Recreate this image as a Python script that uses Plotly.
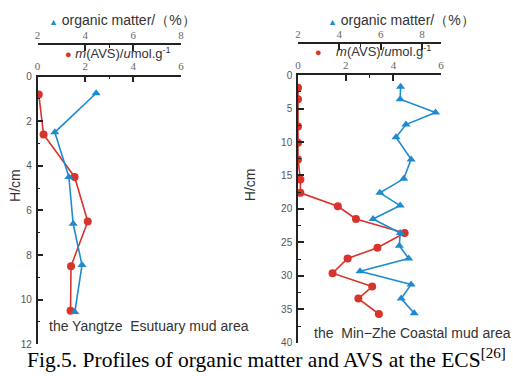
import plotly.graph_objects as go

# ---- data ----
# Left panel: the Yangtze Estuary mud area
avs_left_depth = [0.8, 2.6, 4.5, 6.5, 8.5, 10.5]
avs_left = [0.05, 0.25, 1.55, 2.1, 1.4, 1.38]
om_left_depth = [0.75, 2.5, 4.5, 6.6, 8.45, 10.55]
om_left = [4.45, 2.72, 3.31, 3.49, 3.86, 3.56]

# Right panel: the Min-Zhe Coastal mud area
avs_right_depth = [1.9, 3.6, 7.7, 10.1, 12.6, 15.6, 17.6, 19.6, 21.5, 23.6,
                   25.8, 27.4, 29.6, 31.6, 33.4, 35.7]
avs_right = [0, 0, 0, 0, 0, 0.1, 0.1, 1.67, 2.43, 4.47,
             3.33, 2.08, 1.45, 3.11, 2.53, 3.39]
om_right_depth = [1.75, 3.6, 5.6, 7.4, 9.3, 12.6, 15.5, 17.6, 19.5, 21.5,
                  23.6, 25.5, 27.4, 29.3, 31.3, 33.4, 35.6]
om_right = [6.96, 6.94, 8.65, 7.22, 6.74, 7.47, 7.11, 5.96, 6.94, 5.63,
            6.94, 6.9, 7.35, 5.0, 7.47, 6.99, 7.62]

avs_ticks = [0, 2, 4, 6]
om_ticks = [2, 4, 6, 8]
left_depth_ticks = [0, 2, 4, 6, 8, 10, 12]
right_depth_ticks = [0, 5, 10, 15, 20, 25, 30, 35, 40]

RED = "#d8342c"
BLUE = "#1f8bcf"
W, H = 513, 376


def px(x):
    return x / W


def py(y):
    return 1 - y / H


fig = go.Figure()

line_w = 1.6
fig.add_trace(go.Scatter(x=avs_left, y=avs_left_depth, xaxis="x", yaxis="y",
                         mode="lines+markers", line=dict(color=RED, width=line_w),
                         marker=dict(symbol="circle", size=8, color=RED), showlegend=False))
fig.add_trace(go.Scatter(x=om_left, y=om_left_depth, xaxis="x2", yaxis="y",
                         mode="lines+markers", line=dict(color=BLUE, width=line_w),
                         marker=dict(symbol="triangle-up", size=8, color=BLUE), showlegend=False))
fig.add_trace(go.Scatter(x=avs_right, y=avs_right_depth, xaxis="x3", yaxis="y2",
                         mode="lines+markers", line=dict(color=RED, width=line_w),
                         marker=dict(symbol="circle", size=8, color=RED), showlegend=False))
fig.add_trace(go.Scatter(x=om_right, y=om_right_depth, xaxis="x4", yaxis="y2",
                         mode="lines+markers", line=dict(color=BLUE, width=line_w),
                         marker=dict(symbol="triangle-up", size=8, color=BLUE), showlegend=False))

top_tickfont = dict(family="Liberation Serif", size=11, color="#666")
y_tickfont = dict(family="Liberation Sans", size=10, color="#555")
AX = "#222"


def xax(domain=None, rng=None, tickvals=None, minor_vals=None, **kw):
    d = dict(range=rng, side="top", showline=True, linecolor=AX, linewidth=1.6,
             ticks="inside", ticklen=6, tickwidth=1.6, tickcolor=AX,
             tickvals=tickvals, tickfont=top_tickfont, showgrid=False,
             zeroline=False, fixedrange=True, ticklabelstandoff=0,
             minor=dict(tickvals=minor_vals, ticks="inside", ticklen=3,
                        tickwidth=1.4, tickcolor=AX, showgrid=False))
    if domain is not None:
        d["domain"] = domain
    d.update(kw)
    return d


def yax(domain, rng, tickvals, minor_dtick, anchor):
    return dict(domain=domain, range=rng, anchor=anchor, showline=True,
                linecolor=AX, linewidth=1.6, ticks="inside", ticklen=6,
                tickwidth=1.6, tickcolor=AX, tickvals=tickvals,
                tickfont=y_tickfont, showgrid=False, zeroline=False,
                fixedrange=True, ticklabelstandoff=2,
                minor=dict(dtick=minor_dtick, ticks="inside", ticklen=3,
                           tickwidth=1.4, tickcolor=AX, showgrid=False))


fig.update_layout(
    width=W, height=H, margin=dict(l=0, r=0, t=0, b=0),
    paper_bgcolor="white", plot_bgcolor="white",
    xaxis=xax(domain=[px(35), px(180)], rng=[0, 6], tickvals=avs_ticks,
              minor_vals=[3], anchor="y"),
    xaxis2=xax(rng=[2, 8], tickvals=om_ticks, minor_vals=[5],
               overlaying="x", anchor="free", position=py(40)),
    xaxis3=xax(domain=[px(298.5), px(443.3)], rng=[0, 6], tickvals=avs_ticks,
               minor_vals=[3], anchor="y2"),
    xaxis4=xax(rng=[2, 8.92], tickvals=om_ticks, minor_vals=[5],
               overlaying="x3", anchor="free", position=py(39)),
    yaxis=yax([py(348.5), py(73.5)], [12, 0], left_depth_ticks, 1, "x"),
    yaxis2=yax([py(347), py(72)], [40, 0], right_depth_ticks, 2.5, "x3"),
)

title_font = dict(family="Liberation Sans", size=14, color="#333")
avs_font = dict(family="Liberation Sans", size=13, color="#333")
om_title = f"<span style='color:{BLUE};font-size:9px'>▲</span> organic matter/（%）"
avs_title = (f"<span style='color:{RED};font-size:11px'>●</span> "
             "<i>m</i>(AVS)/<i>u</i>mol.g<sup>-1</sup>")
avs_title_r = (f"<span style='color:{RED};font-size:11px'>●</span>    "
               "<i>m</i>(AVS)/<i>u</i>mol.g<sup>-1</sup>")
label_font = dict(family="Liberation Sans", size=14, color="#333")

annos = [
    dict(x=px(121), y=py(15), text=om_title),
    dict(x=px(116), y=py(49), text=avs_title, font=avs_font),
    dict(x=px(403), y=py(15), text=om_title),
    dict(x=px(374), y=py(47), text=avs_title_r, font=avs_font),
    dict(x=px(12), y=py(185), text="H/cm", textangle=-90),
    dict(x=px(250), y=py(185), text="H/cm", textangle=-90),
    dict(x=px(148), y=py(330), text="the Yangtze  Esutuary mud area", font=label_font),
    dict(x=px(414), y=py(337), text="the  Min\u2212Zhe Coastal mud area", font=label_font),
    dict(x=px(267), y=py(363), text="Fig.5. Profiles of organic matter and AVS at the ECS<sup>[26]</sup>",
         font=dict(family="Liberation Serif", size=21.5, color="#000")),
]
for a in annos:
    a.setdefault("font", title_font)
    fig.add_annotation(xref="paper", yref="paper", showarrow=False,
                       xanchor="center", yanchor="middle", **a)

fig.write_html("out.html")
